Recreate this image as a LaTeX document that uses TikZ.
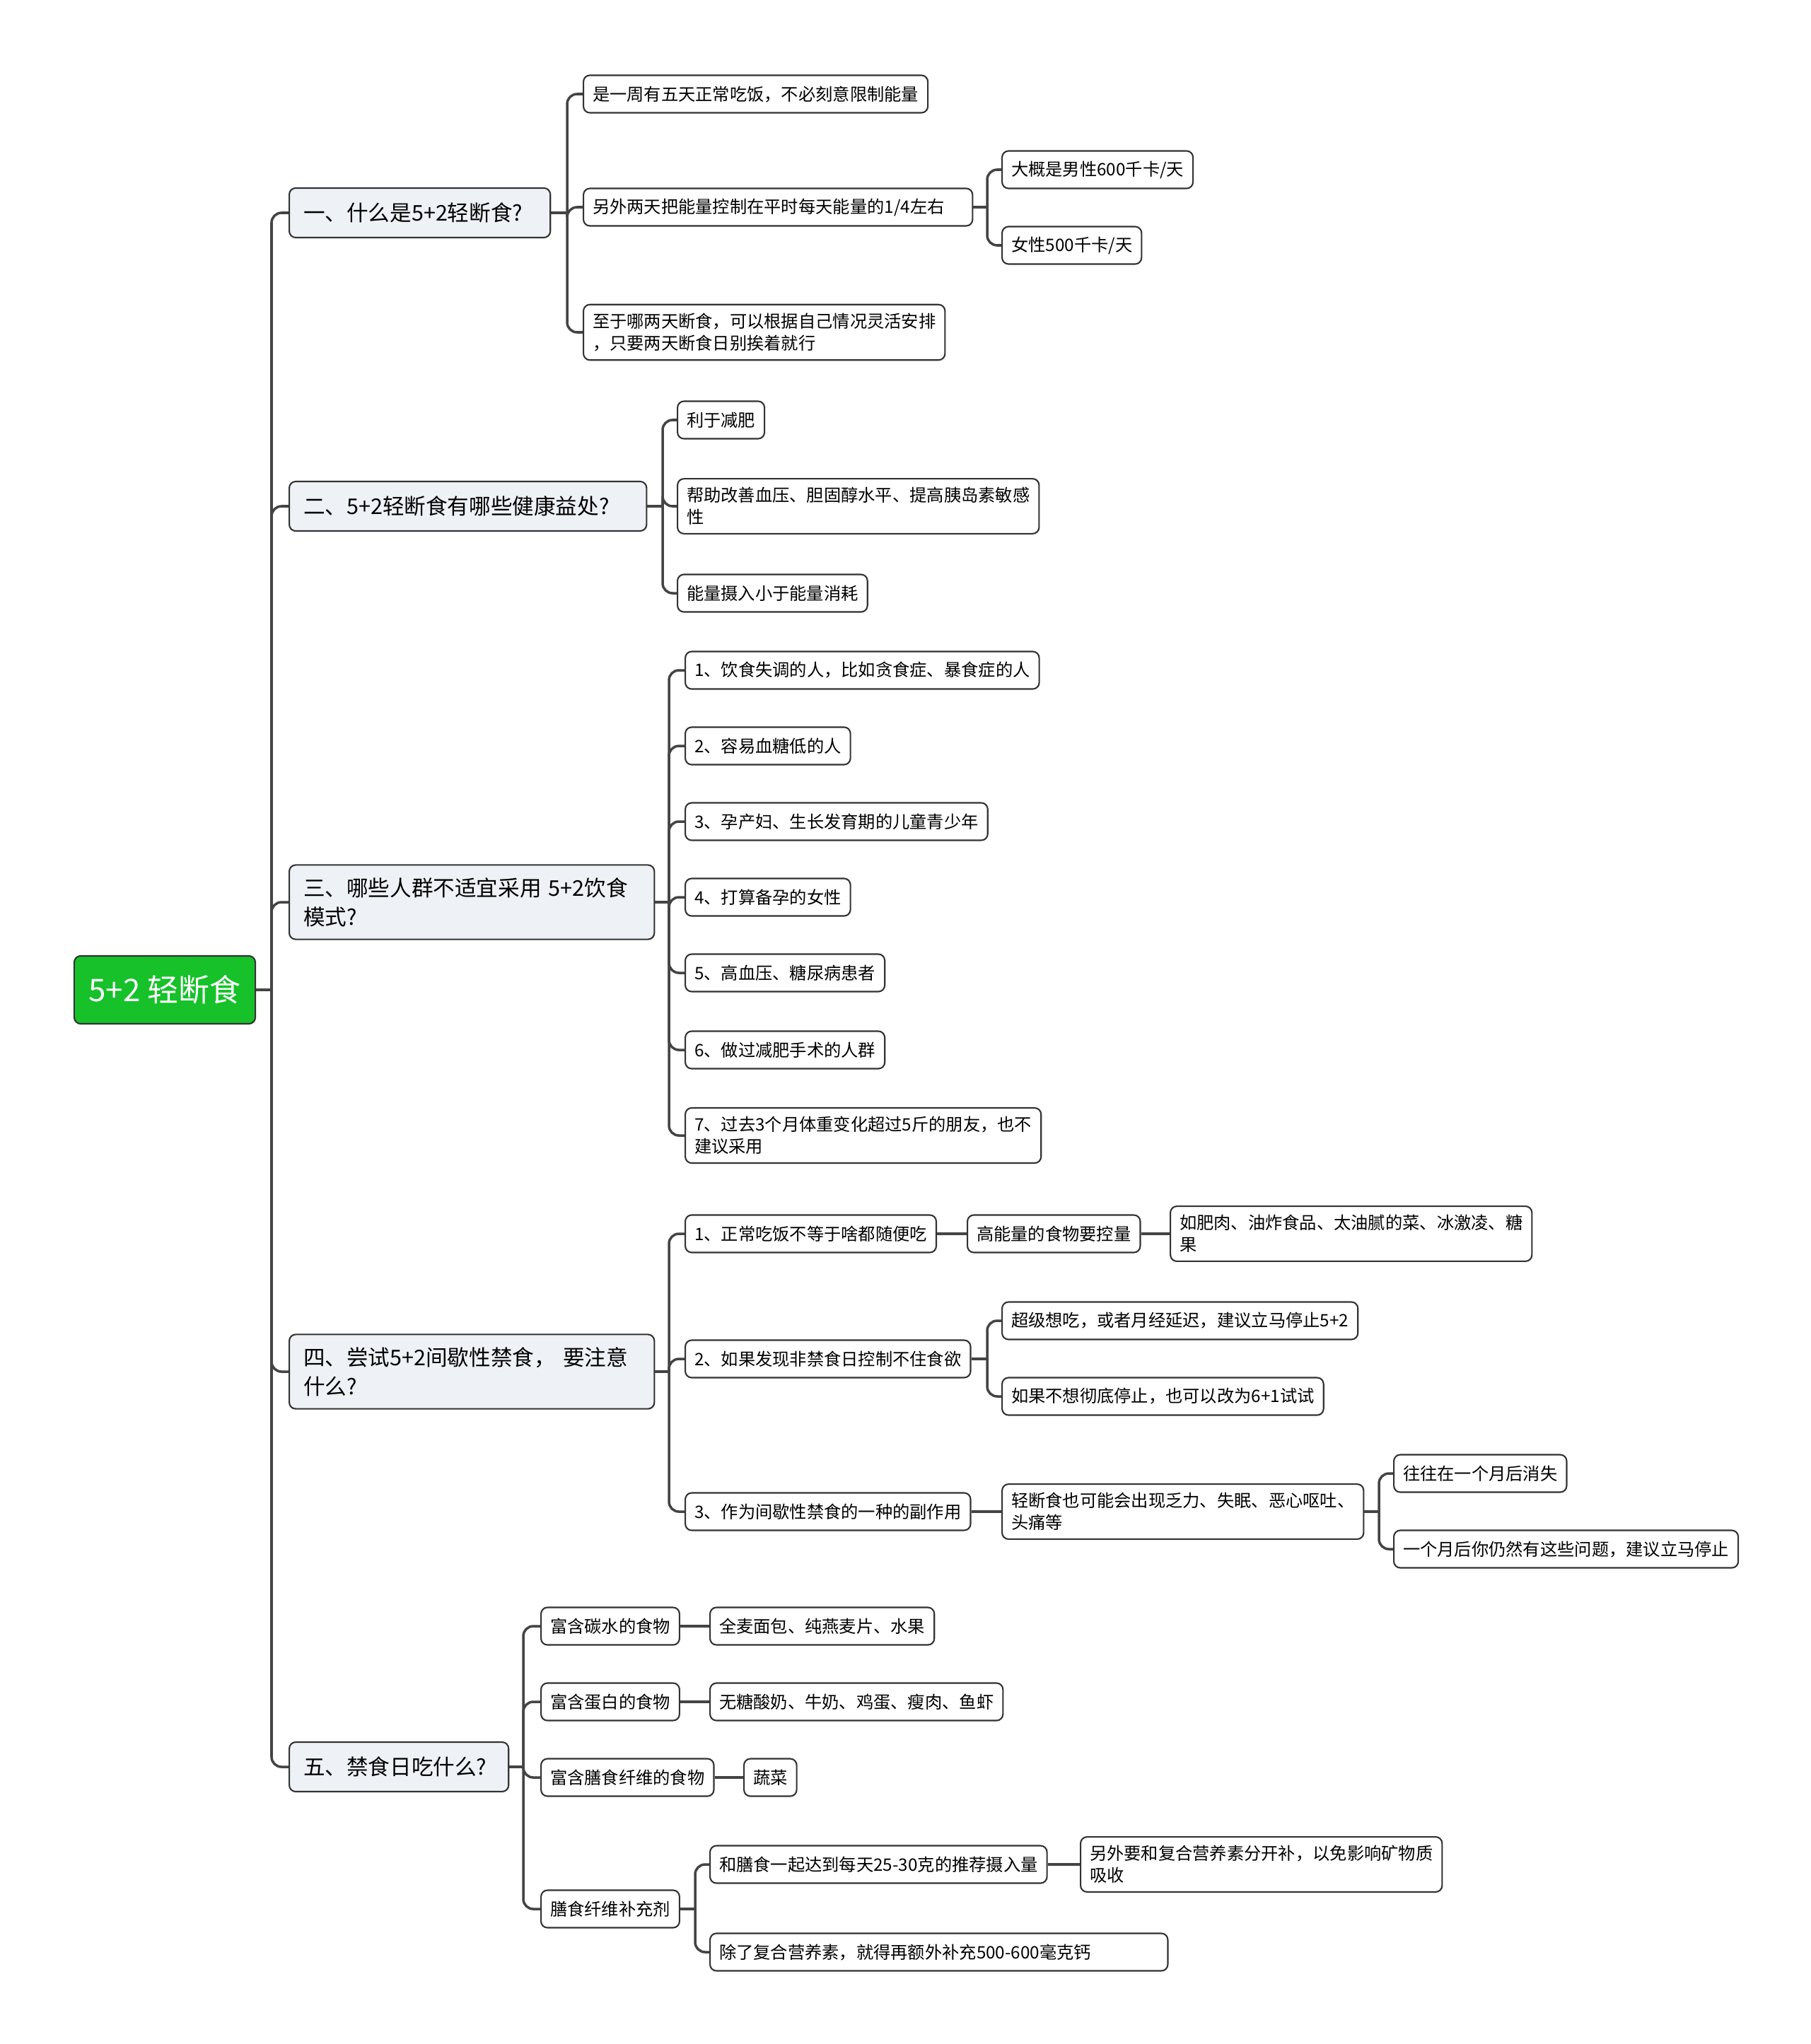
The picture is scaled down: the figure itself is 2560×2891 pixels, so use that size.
\documentclass[tikz,border=0pt]{standalone}
\usepackage{fontspec}
\setmainfont{Noto Sans CJK SC}
\usepackage{xcolor}
\definecolor{rootgreen}{RGB}{22,193,42}
\definecolor{topicfill}{RGB}{238,241,245}
\definecolor{linegray}{RGB}{68,68,68}
\definecolor{boxgray}{RGB}{51,51,51}

\begin{document}
\begin{tikzpicture}[x=0.01cm, y=-0.01cm]
        % ================= 样式定义 =================
        \tikzset{
            % 中心主题:绿底白字
            rootnode/.style={rectangle, rounded corners=2.6pt, draw=boxgray, line width=0.6pt, fill=rootgreen, text=white, minimum width=2.56cm, minimum height=0.96cm, inner sep=0pt, font=\fontsize{12.5pt}{15pt}\selectfont},
            % 一级分支:浅灰底
            topicnode/.style={rectangle, rounded corners=2.6pt, draw=boxgray, line width=0.6pt, fill=topicfill, anchor=west, align=left, minimum height=0.70cm, inner xsep=0.2cm, inner ysep=0.18cm, font=\fontsize{8.7pt}{11.6pt}\selectfont},
            % 二级及以下:白底
            subnode/.style={rectangle, rounded corners=2.6pt, draw=boxgray, line width=0.6pt, fill=white, anchor=west, align=left, minimum height=0.53cm, inner xsep=0.13cm, inner ysep=0.12cm, font=\fontsize{6.9pt}{8.9pt}\selectfont},
            % 连线
            link/.style={draw=linegray, line width=1pt, rounded corners=4pt}
        }
        \useasboundingbox (0,0) rectangle (2560,2891);

        % ================= 中心主题 =================
        \node[rootnode] (root) at (233,1400) {5+2 轻断食};

        % ================= 一级分支 =================
        \node[topicnode, text width=3.29cm] (t1) at (408,301) {一、什么是5+2轻断食?};
        \node[topicnode, text width=4.65cm] (t2) at (408,716) {二、5+2轻断食有哪些健康益处?};
        \node[topicnode, text width=4.76cm] (t3) at (408,1276) {三、哪些人群不适宜采用 5+2饮食\\模式?};
        \node[topicnode, text width=4.76cm] (t4) at (408,1940) {四、尝试5+2间歇性禁食， 要注意\\什么?};
        \node[topicnode, text width=2.70cm] (t5) at (408,2499) {五、禁食日吃什么?};

        % ================= 分支一 =================
        \node[subnode] (t1a) at (824,133) {是一周有五天正常吃饭，不必刻意限制能量};
        \node[subnode, text width=5.24cm] (t1b) at (824,293) {另外两天把能量控制在平时每天能量的1/4左右};
        \node[subnode] (t1b1) at (1416,240) {大概是男性600千卡/天};
        \node[subnode] (t1b2) at (1416,347) {女性500千卡/天};
        \node[subnode] (t1c) at (824,470) {至于哪两天断食，可以根据自己情况灵活安排\\，只要两天断食日别挨着就行};

        % ================= 分支二 =================
        \node[subnode] (t2a) at (957,594) {利于减肥};
        \node[subnode] (t2b) at (957,716) {帮助改善血压、胆固醇水平、提高胰岛素敏感\\性};
        \node[subnode] (t2c) at (957,839) {能量摄入小于能量消耗};

        % ================= 分支三 =================
        \node[subnode] (t3a) at (968,948) {1、饮食失调的人，比如贪食症、暴食症的人};
        \node[subnode] (t3b) at (968,1055) {2、容易血糖低的人};
        \node[subnode] (t3c) at (968,1162) {3、孕产妇、生长发育期的儿童青少年};
        \node[subnode] (t3d) at (968,1269) {4、打算备孕的女性};
        \node[subnode] (t3e) at (968,1376) {5、高血压、糖尿病患者};
        \node[subnode] (t3f) at (968,1485) {6、做过减肥手术的人群};
        \node[subnode] (t3g) at (968,1606) {7、过去3个月体重变化超过5斤的朋友，也不\\建议采用};

        % ================= 分支四 =================
        \node[subnode] (t4a) at (968,1745) {1、正常吃饭不等于啥都随便吃};
        \node[subnode] (t4a1) at (1367,1745) {高能量的食物要控量};
        \node[subnode] (t4a1a) at (1654,1745) {如肥肉、油炸食品、太油腻的菜、冰激凌、糖\\果};
        \node[subnode] (t4b) at (968,1922) {2、如果发现非禁食日控制不住食欲};
        \node[subnode] (t4b1) at (1416,1868) {超级想吃，或者月经延迟，建议立马停止5+2};
        \node[subnode] (t4b2) at (1416,1975) {如果不想彻底停止，也可以改为6+1试试};
        \node[subnode] (t4c) at (968,2138) {3、作为间歇性禁食的一种的副作用};
        \node[subnode] (t4c1) at (1416,2138) {轻断食也可能会出现乏力、失眠、恶心呕吐、\\头痛等};
        \node[subnode] (t4c1a) at (1970,2084) {往往在一个月后消失};
        \node[subnode] (t4c1b) at (1970,2191) {一个月后你仍然有这些问题，建议立马停止};

        % ================= 分支五 =================
        \node[subnode] (t5a) at (764,2300) {富含碳水的食物};
        \node[subnode] (t5a1) at (1003,2300) {全麦面包、纯燕麦片、水果};
        \node[subnode] (t5b) at (764,2407) {富含蛋白的食物};
        \node[subnode] (t5b1) at (1003,2407) {无糖酸奶、牛奶、鸡蛋、瘦肉、鱼虾};
        \node[subnode] (t5c) at (764,2514) {富含膳食纤维的食物};
        \node[subnode] (t5c1) at (1051,2514) {蔬菜};
        \node[subnode] (t5d) at (764,2700) {膳食纤维补充剂};
        \node[subnode] (t5d1) at (1003,2637) {和膳食一起达到每天25-30克的推荐摄入量};
        \node[subnode] (t5d1a) at (1527,2637) {另外要和复合营养素分开补，以免影响矿物质\\吸收};
        \node[subnode, text width=6.21cm] (t5d2) at (1003,2761) {除了复合营养素，就得再额外补充500-600毫克钙};

        % ================= 连线 =================
        % 分叉点
        \coordinate (j0) at (384,1400);
        \coordinate (j1) at (802,301);
        \coordinate (j1b) at (1396,293);
        \coordinate (j2) at (937,716);
        \coordinate (j3) at (946,1276);
        \coordinate (j4) at (946,1940);
        \coordinate (j4b) at (1396,1922);
        \coordinate (j4c) at (1950,2138);
        \coordinate (j5) at (740,2499);
        \coordinate (j5d) at (983,2700);

        % 1. 中心到一级
        \draw[link] (root.east) -- (j0);
        \draw[link] (j0) |- (t1.west);
        \draw[link] (j0) |- (t2.west);
        \draw[link] (j0) |- (t3.west);
        \draw[link] (j0) |- (t4.west);
        \draw[link] (j0) |- (t5.west);

        % 2. 分支一
        \draw[link] (t1.east) -- (j1);
        \draw[link] (j1) |- (t1a.west);
        \draw[link] (j1) |- (t1b.west);
        \draw[link] (j1) |- (t1c.west);
        \draw[link] (t1b.east) -- (j1b);
        \draw[link] (j1b) |- (t1b1.west);
        \draw[link] (j1b) |- (t1b2.west);

        % 3. 分支二
        \draw[link] (t2.east) -- (j2);
        \draw[link] (j2) |- (t2a.west);
        \draw[link] (j2) |- (t2b.west);
        \draw[link] (j2) |- (t2c.west);

        % 4. 分支三
        \draw[link] (t3.east) -- (j3);
        \draw[link] (j3) |- (t3a.west);
        \draw[link] (j3) |- (t3b.west);
        \draw[link] (j3) |- (t3c.west);
        \draw[link] (j3) |- (t3d.west);
        \draw[link] (j3) |- (t3e.west);
        \draw[link] (j3) |- (t3f.west);
        \draw[link] (j3) |- (t3g.west);

        % 5. 分支四
        \draw[link] (t4.east) -- (j4);
        \draw[link] (j4) |- (t4a.west);
        \draw[link] (j4) |- (t4b.west);
        \draw[link] (j4) |- (t4c.west);
        \draw[link] (t4a.east) -- (t4a1.west);
        \draw[link] (t4a1.east) -- (t4a1a.west);
        \draw[link] (t4b.east) -- (j4b);
        \draw[link] (j4b) |- (t4b1.west);
        \draw[link] (j4b) |- (t4b2.west);
        \draw[link] (t4c.east) -- (t4c1.west);
        \draw[link] (t4c1.east) -- (j4c);
        \draw[link] (j4c) |- (t4c1a.west);
        \draw[link] (j4c) |- (t4c1b.west);

        % 6. 分支五
        \draw[link] (t5.east) -- (j5);
        \draw[link] (j5) |- (t5a.west);
        \draw[link] (j5) |- (t5b.west);
        \draw[link] (j5) |- (t5c.west);
        \draw[link] (j5) |- (t5d.west);
        \draw[link] (t5a.east) -- (t5a1.west);
        \draw[link] (t5b.east) -- (t5b1.west);
        \draw[link] (t5c.east) -- (t5c1.west);
        \draw[link] (t5d.east) -- (j5d);
        \draw[link] (j5d) |- (t5d1.west);
        \draw[link] (j5d) |- (t5d2.west);
        \draw[link] (t5d1.east) -- (t5d1a.west);

\end{tikzpicture}
\end{document}
